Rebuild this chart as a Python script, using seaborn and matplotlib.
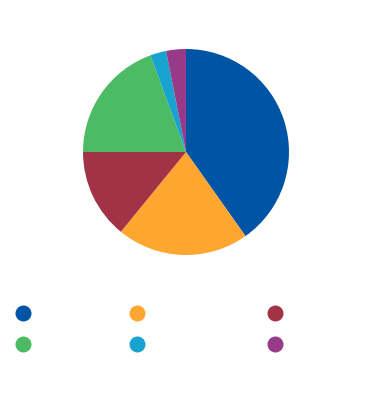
import matplotlib
matplotlib.use("Agg")
import matplotlib.pyplot as plt
import seaborn as sns
from matplotlib.lines import Line2D

sns.set_theme(style="white")

categories = ["A", "B", "C", "D", "E", "F"]
values = [40.2, 20.7, 14.1, 19.4, 2.5, 3.1]
colors = ["#0054A5", "#FFA630", "#A23346", "#4CBB64", "#17A2D0", "#973A87"]

W, H = 375, 397
fig = plt.figure(figsize=(W / 100, H / 100), dpi=100)
fig.patch.set_facecolor("white")

cx, cy, r = 186, 152, 103
ax = fig.add_axes([(cx - r) / W, (H - cy - r) / H, 2 * r / W, 2 * r / H])
ax.pie(values, colors=colors, startangle=90, counterclock=False,
       wedgeprops=dict(linewidth=0))
ax.set_xlim(-1, 1)
ax.set_ylim(-1, 1)
ax.set_aspect("equal")
ax.axis("off")

# legend: row-major layout, 3 columns x 2 rows
col_x = [23, 137, 275]
row_center = (313 + 344) / 2 + 1
for c, x in enumerate(col_x):
    idx = [c, c + 3]
    handles = [Line2D([0], [0], marker="o", linestyle="none", markersize=11.5,
                      markerfacecolor=colors[i], markeredgewidth=0) for i in idx]
    leg = fig.legend(handles, ["", ""], loc="center",
                     bbox_to_anchor=(x / W, 1 - row_center / H),
                     frameon=False, handlelength=1.0, handletextpad=0,
                     borderpad=0, borderaxespad=0, labelspacing=1.24, fontsize=10)

fig.savefig("out.png", dpi=100, facecolor="white")
